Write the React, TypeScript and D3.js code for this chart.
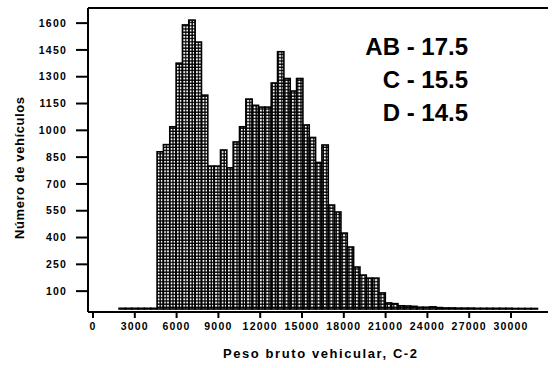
import React from "react";
import * as d3 from "d3";

// Histogram definition (bin start and width)
const firstBin = 1870;
const binWidth = 455;
const counts = [
  4, 4, 4, 4, 4, 4,
  880, 920, 1020, 1376, 1590, 1617, 1494, 1197,
  800, 800, 890, 790, 935, 1020, 1175, 1140, 1130, 1130,
  1265, 1440, 1290, 1220, 1290, 1030, 960, 820, 918,
  582, 543, 425, 347, 235, 190, 173, 173, 90,
  34, 30, 18, 17, 15, 10, 10, 12, 8, 6, 6, 5, 5, 5, 4, 4, 4, 4, 4, 4, 3, 3, 3, 3,
];
const yTicks = [100, 250, 400, 550, 700, 850, 1000, 1150, 1300, 1450, 1600];
const xTicks = [0, 3000, 6000, 9000, 12000, 15000, 18000, 21000, 24000, 27000, 30000];
const notes = ["AB - 17.5", "C - 15.5", "D - 14.5"];
const xTitle = "Peso bruto vehicular, C-2";
const yTitle = "Número de vehículos";

const W = 552;
const H = 368;
const font = "'Liberation Sans', Arial, Helvetica, sans-serif";

export default function App() {
  const x = d3.scaleLinear().domain([0, 30000]).range([93, 511]);
  const y = d3.scaleLinear().domain([0, 1600]).range([309, 309 - 1600 * 0.17867]);
  const left = 88;
  const right = 548;
  const top = 8;
  const bottom = 312;

  return (
    <svg
      width={W}
      height={H}
      style={{ position: "absolute", left: 0, top: 0, background: "#fff" }}
      fontFamily={font}
    >
      <defs>
        <pattern id="grid" patternUnits="userSpaceOnUse" width={3.2} height={3.2}>
          <rect width={3.2} height={3.2} fill="#000" />
          <rect x={0.8} y={0.8} width={1.9} height={1.9} fill="#fff" />
        </pattern>
      </defs>
      <rect width={W} height={H} fill="#fff" />

      {/* bars */}
      {counts.map((c, i) => {
        const x0 = x(firstBin + i * binWidth);
        const x1 = x(firstBin + (i + 1) * binWidth);
        const yt = y(c);
        return (
          <rect
            key={i}
            x={x0}
            y={yt}
            width={x1 - x0}
            height={y(0) - yt}
            fill="url(#grid)"
            stroke="#000"
            strokeWidth={1.6}
          />
        );
      })}

      {/* frame / axes */}
      <line x1={left} x2={right} y1={top} y2={top} stroke="#000" strokeWidth={2} />
      <line x1={left} x2={left} y1={top} y2={bottom} stroke="#000" strokeWidth={2} />
      <line x1={left} x2={right} y1={bottom} y2={bottom} stroke="#000" strokeWidth={2} />

      {yTicks.map((t) => (
        <g key={t}>
          <line x1={76} x2={left} y1={y(t)} y2={y(t)} stroke="#000" strokeWidth={2} />
          <text
            x={67}
            y={y(t)}
            dy="0.35em"
            textAnchor="end"
            fontSize={10.5}
            fontWeight="bold"
            letterSpacing={1.2}
          >
            {t}
          </text>
        </g>
      ))}

      {xTicks.map((t) => (
        <g key={t}>
          <line x1={x(t)} x2={x(t)} y1={bottom} y2={318} stroke="#000" strokeWidth={2} />
          <text
            x={x(t)}
            y={330}
            textAnchor="middle"
            fontSize={10.5}
            fontWeight="bold"
            letterSpacing={1.2}
          >
            {t}
          </text>
        </g>
      ))}

      <text
        x={320}
        y={358}
        textAnchor="middle"
        fontSize={13}
        fontWeight="bold"
        textLength={194}
        lengthAdjust="spacing"
      >
        {xTitle}
      </text>
      <text
        transform="translate(24,168) rotate(-90)"
        textAnchor="middle"
        fontSize={13}
        fontWeight="bold"
        textLength={142}
        lengthAdjust="spacing"
      >
        {yTitle}
      </text>

      {notes.map((n, i) => (
        <text
          key={n}
          x={468}
          y={55 + i * 33}
          textAnchor="end"
          fontSize={24}
          fontWeight="bold"
        >
          {n}
        </text>
      ))}
    </svg>
  );
}
